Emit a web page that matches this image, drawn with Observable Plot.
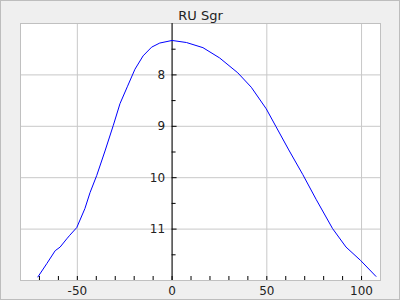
<!DOCTYPE html>
<html>
<head>
<meta charset="utf-8">
<script src="https://cdn.jsdelivr.net/npm/d3@7"></script>
<script src="https://cdn.jsdelivr.net/npm/@observablehq/plot@0.6"></script>
<style>
  html, body { margin: 0; padding: 0; background: #efefef; }
  svg { display: block; outline: 1px solid #bdbdbd; outline-offset: -1px; }
</style>
</head>
<body>
<div id="chart"></div>
<script>
const title = "RU Sgr";
const phase = [-70.8, -66.1, -61.7, -59.1, -55.6, -54, -50.3, -46, -43.3, -39.8, -35.4, -31, -27.5, -23.5, -19.6, -15.3, -10.8, -6.5, 0, 7.6, 16.3, 25.1, 34.7, 41.8, 49.7, 54.9, 61.6, 69, 76, 84.7, 91.8, 99.5, 107.6];
const mag   = [11.93, 11.67, 11.42, 11.35, 11.19, 11.12, 10.97, 10.6, 10.29, 9.96, 9.48, 8.98, 8.56, 8.22, 7.89, 7.63, 7.46, 7.38, 7.33, 7.37, 7.47, 7.67, 7.96, 8.24, 8.66, 9.01, 9.46, 9.94, 10.42, 10.99, 11.35, 11.61, 11.92];
const xMajor = [-50, 0, 50, 100];
const xMinor = [-70, -60, -50, -40, -30, -20, -10, 0, 10, 20, 30, 40, 50, 60, 70, 80, 90, 100];
const yMajor = [8, 9, 10, 11];
const yMinor = [7.5, 8.5, 9.5, 10.5, 11.5];
const xDomain = [-80, 110];
const yDomain = [7, 12];

const data = phase.map((p, i) => ({phase: p, mag: mag[i]}));

const chart = Plot.plot({
  width: 400,
  height: 300,
  marginLeft: 20,
  marginRight: 20,
  marginTop: 23,
  marginBottom: 20,
  style: {background: "#efefef", fontFamily: "DejaVu Sans, sans-serif", fontSize: "12px", color: "#222"},
  x: {domain: xDomain, axis: null},
  y: {domain: yDomain, reverse: true, axis: null},
  marks: [
    Plot.frame({fill: "white", stroke: "none"}),
    Plot.gridX(xMajor, {stroke: "#c8c8c8", strokeOpacity: 1}),
    Plot.gridY(yMajor, {stroke: "#c8c8c8", strokeOpacity: 1}),
    Plot.frame({stroke: "#c0c0c0", strokeWidth: 1}),
    Plot.ruleX([0], {stroke: "black", strokeWidth: 1}),
    Plot.ruleY(yMajor, {y: d => d, x1: 0, x2: 0, insetRight: -5, stroke: "black"}),
    Plot.ruleY(yMinor, {y: d => d, x1: 0, x2: 0, insetRight: -4, stroke: "black"}),
    Plot.ruleX(xMinor, {x: d => d, y1: yDomain[1], y2: yDomain[1], insetTop: -4, stroke: "black"}),
    Plot.text(yMajor, {x: 0, y: d => d, text: d => String(d), textAnchor: "end", dx: -7, fontSize: 12, fill: "#222"}),
    Plot.text(xMajor, {x: d => d, y: yDomain[1], text: d => String(d), dy: 11, fontSize: 12, fill: "#222"}),
    Plot.line(data, {x: "phase", y: "mag", stroke: "#0000ff", strokeWidth: 1}),
    Plot.text([title], {frameAnchor: "top", dy: -13, fontSize: 13, fill: "#222"})
  ]
});
document.getElementById("chart").append(chart);
</script>
</body>
</html>
